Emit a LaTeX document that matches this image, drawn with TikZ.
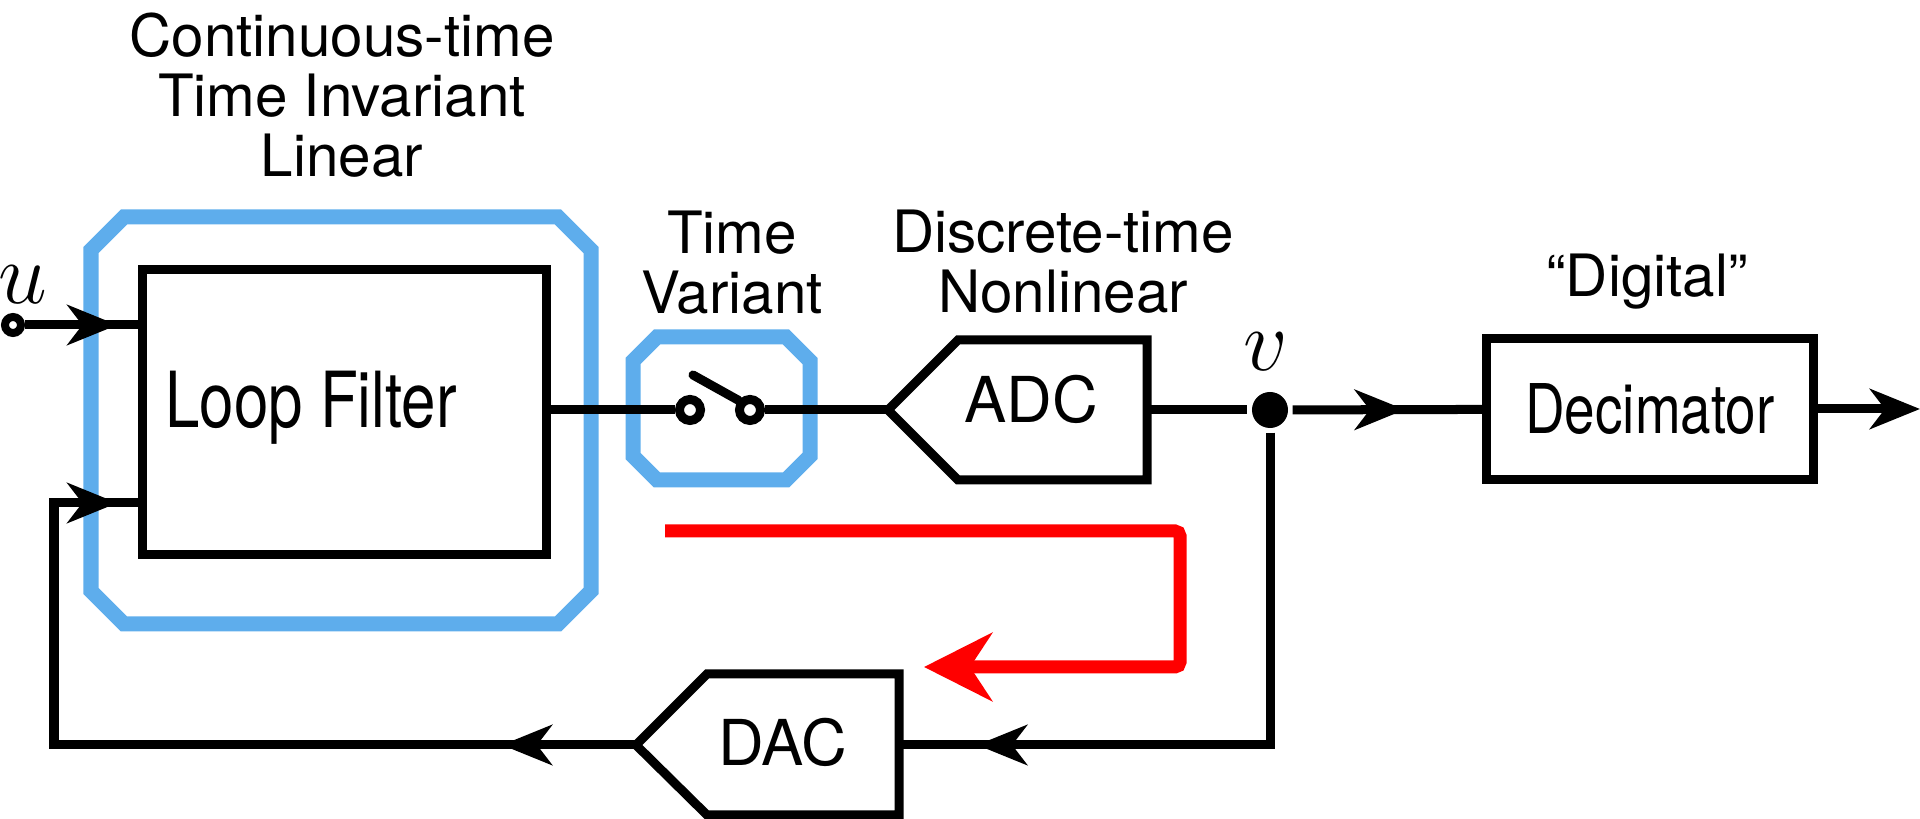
\documentclass[tikz,border=0pt]{standalone}
\usepackage{fontspec}
\setmainfont{TeX Gyre Heros}
\newfontfamily\narrowfont{TeX Gyre Heros}[FakeStretch=0.8]
\usetikzlibrary{arrows.meta,decorations.markings}
\definecolor{frameblue}{RGB}{94,173,236}

\begin{document}
\begin{tikzpicture}[x=0.01cm, y=-0.01cm, line width=0.09cm,
	every node/.style={font=\fontsize{16.6}{17.1}\selectfont},
	>={Stealth[length=0.5cm,width=0.4cm,inset=0.15cm]},
	frameline/.style={frameblue, line width=0.15cm},
	blockbox/.style={draw, rectangle, inner sep=0pt},
	boxlabel/.style={font=\narrowfont\fontsize{19.5}{20}\selectfont},
	terminal/.style={circle, draw, fill=white, inner sep=0pt, minimum size=0.21cm},
	dot/.style={circle, fill, inner sep=0pt, minimum size=0.36cm},
	mathlabel/.style={font=\fontsize{23}{24}\selectfont},
	midarrow/.style={postaction={decorate, decoration={markings, mark=at position #1 with {\arrow{>}}}}}]
	\useasboundingbox (0,0) rectangle (1920,819);
	\draw[frameline] (91,250) -- (124,217) -- (558,217) -- (591,250) -- (591,591) -- (558,624) -- (124,624) -- (91,591) -- cycle;
	\draw[frameline] (633,361) -- (657,337) -- (786,337) -- (810,361) -- (810,456) -- (786,480) -- (657,480) -- (633,456) -- cycle;
	\node[align=center] (ctlabel) at (342,95) {Continuous-time\\Time Invariant\\Linear};
	\node[align=center] (tvlabel) at (732,263) {Time\\Variant};
	\node[align=center] (dtlabel) at (1063,262) {Discrete-time\\Nonlinear};
	\node[anchor=base] (diglabel) at (1647,297) {“Digital”};
	\node[blockbox, minimum width=4.03cm, minimum height=2.85cm] (lf) at (344.5,412) {};
	\node[boxlabel, font=\narrowfont\fontsize{22}{22}\selectfont] (lftext) at (311,408) {Loop Filter};
	\node[terminal, minimum size=0.16cm, line width=0.08cm] (uin) at (13,325) {};
	\node[mathlabel] (ulabel) at (23,285) {$u$};
	\node[terminal] (swl) at (690,410) {};
	\node[terminal] (swr) at (750,410) {};
	\coordinate (lever) at (693,375);
	\coordinate (adcin) at (888,410);
	\coordinate (adcout) at (1147,410);
	\draw (adcin) -- ++(70,-70) -- ++(189,0) -- ++(0,140) -- ++(-189,0) -- cycle;
	\node[font=\fontsize{18}{18}\selectfont] (adc) at (1031,399) {ADC};
	\coordinate (dacin) at (899,745);
	\coordinate (dacout) at (636,745);
	\draw (dacout) -- ++(71,-71) -- ++(192,0) -- ++(0,141) -- ++(-192,0) -- cycle;
	\node[font=\fontsize{18}{18}\selectfont] (dac) at (783,742) {DAC};
	\node[dot] (vdot) at (1270,410) {};
	\node[mathlabel] (vlabel) at (1266,352) {$v$};
	\node[blockbox, boxlabel, minimum width=3.27cm, minimum height=1.41cm] (dec) at (1650,409) {Decimator};
	\coordinate (out) at (1920,409);
	\coordinate (fbleft) at (54,745);
	\coordinate (fbrow) at (0,503);
	\draw[midarrow=-0.21cm] (uin) -- (lf.west |- uin);
	\draw (lf.east |- swl) -- (swl);
	\draw[line cap=round] (lever) -- (swr.140);
	\draw (swr) -- (adcin);
	\draw (adcout) -- (vdot);
	\draw[midarrow=-0.77cm] (vdot) -- (dec);
	\draw[->] (dec) -- (out);
	\draw[midarrow=-0.78cm] (vdot) |- (dacin);
	\draw[midarrow=1.34cm, midarrow=-0.21cm] (dacout) -- (fbleft) |- (lf.west |- fbrow);
	\coordinate (redstart) at (665,531);
	\coordinate (redend) at (924,667);
	\draw[red, line width=0.13cm, rounded corners=0.05cm, -{Stealth[length=0.68cm,width=0.68cm,inset=0.22cm]}] (redstart) -- (1180,531) -- (1180,667) -- (redend);
\end{tikzpicture}
\end{document}
